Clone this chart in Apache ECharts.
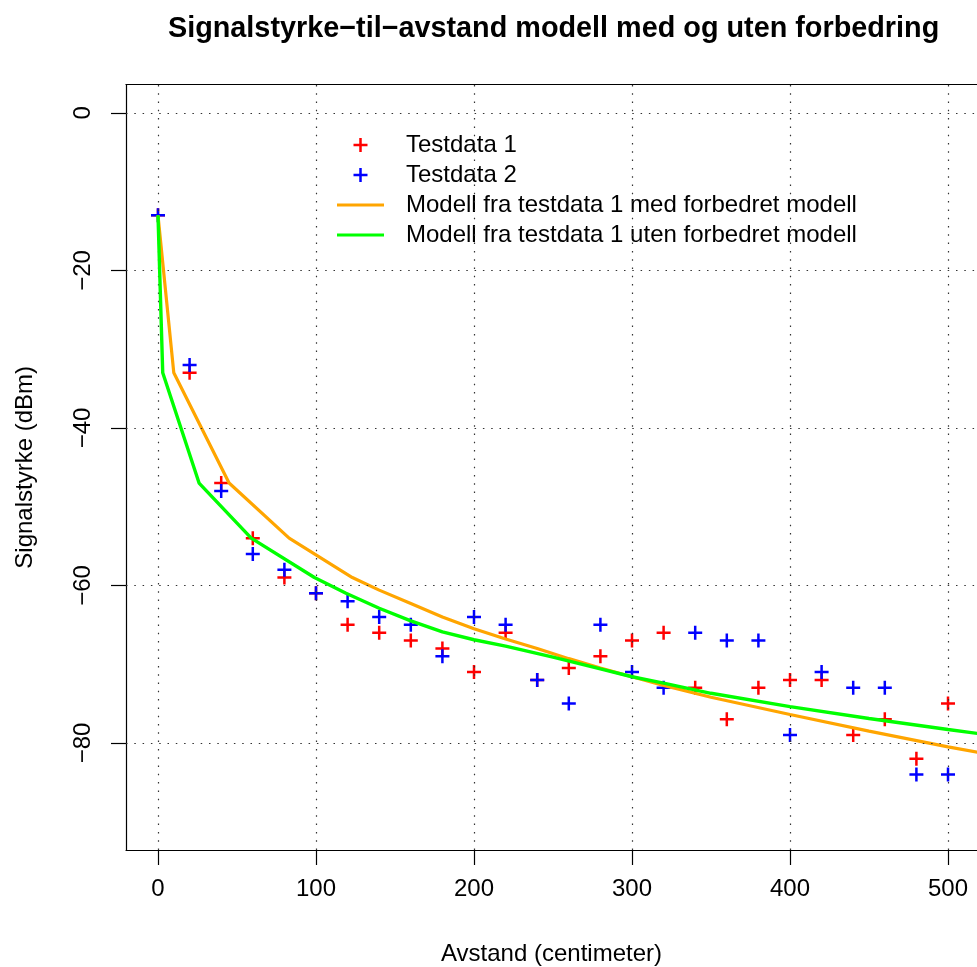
<!DOCTYPE html>
<html><head><meta charset="utf-8">
<script src="https://cdn.jsdelivr.net/npm/echarts@6/dist/echarts.min.js"></script>
<style>html,body{margin:0;padding:0;background:#fff}#c{width:977px;height:967px}</style>
</head><body><div id="c"></div>
<script>
// ---- data ----
const distances = [0,20,40,60,80,100,120,140,160,180,200,220,240,260,280,300,320,340,360,380,400,420,440,460,480,500];
const testdata1 = [-13,-33,-47,-54,-59,-61,-65,-66,-67,-68,-71,-66,-72,-70.5,-69,-67,-66,-73,-77,-73,-72,-72,-79,-77,-82,-75];
const testdata2 = [-13,-32,-48,-56,-58,-61,-62,-64,-65,-69,-64,-65,-72,-75,-65,-71,-73,-66,-67,-67,-79,-71,-73,-73,-84,-84];
const medX = [0,10,45,83,123,140,160,180,200,220,240,260,280,300,320,350,400,450,500,530];
const medY = [-13,-33,-47,-54,-59,-60.6,-62.3,-64.0,-65.5,-66.8,-68.0,-69.3,-70.5,-71.6,-72.7,-74.2,-76.4,-78.5,-80.5,-81.6];
const utenX = [0,3,26,59,99,119,140,160,180,200,220,250,280,300,320,350,400,450,500,530];
const utenY = [-13,-33,-47,-54,-59,-61,-62.9,-64.5,-65.9,-66.9,-67.7,-69.1,-70.6,-71.6,-72.4,-73.7,-75.4,-76.9,-78.3,-79.1];
const xTicks = [0,100,200,300,400,500];
const yTicks = [0,-20,-40,-60,-80];
const xLim = [-20.25, 518.35];
const yLim = [-93.6, 3.6];
const names = ['Testdata 1','Testdata 2','Modell fra testdata 1 med forbedret modell','Modell fra testdata 1 uten forbedret modell'];
const titleText = 'Signalstyrke\u2212til\u2212avstand modell med og uten forbedring';
const xName = 'Avstand (centimeter)';
const yName = 'Signalstyrke (dBm)';

const FONT = "'Liberation Sans', Arial, Helvetica, sans-serif";
const plus = 'path://M0,7L14,7M7,0L7,14';
const bar = 'path://M0,0L47,0L47,3L0,3Z';
const pairs = (xs, ys) => xs.map((x, i) => [x, ys[i]]);
const fmt = v => String(v).replace('-', '\u2212');

const chart = echarts.init(document.getElementById('c'), null, {renderer: 'canvas'});
chart.setOption({
  animation: false,
  backgroundColor: '#fff',
  title: {
    text: titleText, left: 548.6, top: 10, textAlign: 'center',
    textStyle: {fontFamily: FONT, fontSize: 28.8, fontWeight: 'bold', color: '#000'}
  },
  grid: {left: 126, top: 84.6, right: 0, bottom: 117, show: false, containLabel: false, outerBoundsMode: 'none'},
  legend: {
    orient: 'vertical', left: 337, top: 130, padding: 0, itemWidth: 47, itemHeight: 14, itemGap: 0,
    selectedMode: false,
    textStyle: {fontFamily: FONT, fontSize: 24, lineHeight: 30, color: '#000', padding: [0, 0, 0, 17]},
    data: [
      {name: names[0], icon: plus, itemStyle: {color: 'none', borderColor: '#ff0000', borderWidth: 2.5}},
      {name: names[1], icon: plus, itemStyle: {color: 'none', borderColor: '#0000ff', borderWidth: 2.5}},
      {name: names[2], icon: bar, itemStyle: {color: '#ffa500', borderWidth: 0}},
      {name: names[3], icon: bar, itemStyle: {color: '#00ff00', borderWidth: 0}}
    ]
  },
  xAxis: [{
    type: 'value', min: xLim[0], max: xLim[1],
    name: xName, nameLocation: 'middle', nameGap: 92,
    nameTextStyle: {fontFamily: FONT, fontSize: 24, color: '#000'},
    axisLine: {show: true, onZero: false, lineStyle: {color: '#000', width: 1.2}},
    axisTick: {show: true, length: 15, inside: false, customValues: xTicks, lineStyle: {color: '#000', width: 1.2}},
    axisLabel: {customValues: xTicks, margin: 27, fontFamily: FONT, fontSize: 24, color: '#000', formatter: fmt},
    splitLine: {show: false}
  }, {
    type: 'value', position: 'top', min: xLim[0], max: xLim[1],
    axisLine: {show: true, onZero: false, lineStyle: {color: '#000', width: 1.2}},
    axisTick: {show: false}, axisLabel: {show: false}, splitLine: {show: false}
  }],
  yAxis: {
    type: 'value', min: yLim[0], max: yLim[1],
    name: yName, nameLocation: 'middle', nameGap: 89,
    nameTextStyle: {fontFamily: FONT, fontSize: 24, color: '#000'},
    axisLine: {show: true, onZero: false, lineStyle: {color: '#000', width: 1.2}},
    axisTick: {show: true, length: 15, inside: false, customValues: yTicks, lineStyle: {color: '#000', width: 1.2}},
    axisLabel: {customValues: yTicks, rotate: 90, margin: 31, fontFamily: FONT, fontSize: 24, color: '#000', formatter: fmt},
    splitLine: {show: false}
  },
  series: [
    {
      name: names[0], type: 'scatter', z: 2, symbol: plus, symbolSize: 14,
      itemStyle: {color: 'none', borderColor: '#ff0000', borderWidth: 2.5, opacity: 1},
      emphasis: {disabled: true},
      data: pairs(distances, testdata1)
    },
    {
      name: names[1], type: 'scatter', z: 3, symbol: plus, symbolSize: 14,
      itemStyle: {color: 'none', borderColor: '#0000ff', borderWidth: 2.5, opacity: 1},
      emphasis: {disabled: true},
      data: pairs(distances, testdata2)
    },
    {
      name: names[2], type: 'line', z: 4, symbol: 'none', smooth: false,
      lineStyle: {color: '#ffa500', width: 3.2}, itemStyle: {color: '#ffa500'},
      emphasis: {disabled: true},
      data: pairs(medX, medY)
    },
    {
      name: names[3], type: 'line', z: 5, symbol: 'none', smooth: false,
      lineStyle: {color: '#00ff00', width: 3.4}, itemStyle: {color: '#00ff00'},
      emphasis: {disabled: true},
      data: pairs(utenX, utenY)
    },
    {
      name: 'grid', type: 'line', z: 6, data: [], silent: true,
      markLine: {
        silent: true, symbol: ['none', 'none'], label: {show: false},
        lineStyle: {color: '#333', width: 1.2, type: [1.5, 6.8]},
        emphasis: {disabled: true},
        data: xTicks.map(v => ({xAxis: v})).concat(yTicks.map(v => ({yAxis: v})))
      }
    }
  ]
});
</script>
</body></html>
